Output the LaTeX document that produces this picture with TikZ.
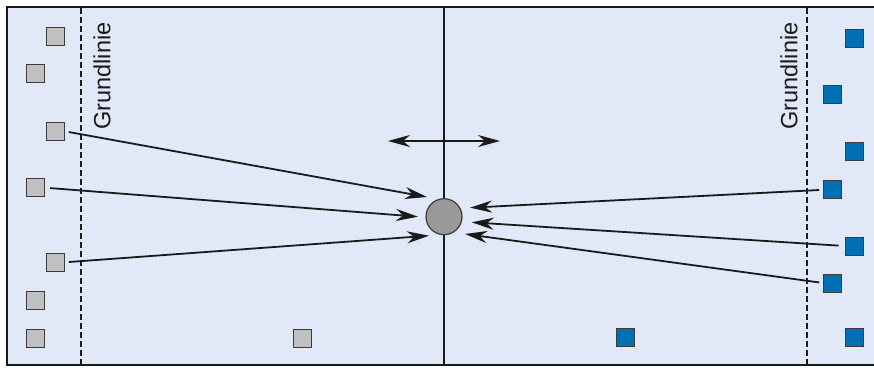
\documentclass[tikz,border=0pt]{standalone}
\usepackage{fontspec}
\setmainfont{Liberation Sans}
\usetikzlibrary{arrows.meta}
\definecolor{field}{HTML}{E1E8F7}
\definecolor{sqgray}{HTML}{C0C0C0}
\definecolor{sqblue}{HTML}{0070B5}
\definecolor{ballgray}{HTML}{999999}
\definecolor{ink}{HTML}{1A1A1A}
\tikzset{
  player/.style={draw=ink!85, line width=1pt, minimum size=18pt, inner sep=0pt},
  grey/.style={player, fill=sqgray},
  blue/.style={player, fill=sqblue},
  arr/.style={draw=ink, line width=1.8pt, -{Stealth[length=22pt,width=12pt,inset=7pt]}},
  dblarr/.style={draw=ink, line width=1.8pt, {Stealth[length=22pt,width=12pt,inset=7pt]}-{Stealth[length=22pt,width=12pt,inset=7pt]}},
  baseline line/.style={draw=ink, line width=2pt, dash pattern=on 6pt off 3pt},
  label/.style={rotate=90, font=\fontsize{23.5}{26}\selectfont, text=ink, inner sep=0pt}
}
\begin{document}
\begin{tikzpicture}[x=1pt,y=-1pt]
\useasboundingbox (0,0) rectangle (874,367);
% field
\draw[fill=field, draw=ink, line width=2.4pt] (7,7) rectangle (880,365);
% center line
\draw[ink, line width=2.2pt] (444,7) -- (444,365);
% baselines
\draw[baseline line] (81,8) -- (81,365);
\draw[baseline line] (807,8) -- (807,365);
\node[label] (gl) at (102,76) {Grundlinie};
\node[label] (gr) at (789,76) {Grundlinie};
% ball
\node[circle, draw=ink!85, fill=ballgray, line width=1.2pt, minimum size=36pt, inner sep=0pt] (ball) at (444,216.7) {};
% grey players
\node[grey] (l1) at (55.3,36) {};
\node[grey] (l2) at (35.7,73.7) {};
\node[grey] (l3) at (55.3,131.3) {};
\node[grey] (l4) at (35.7,187.7) {};
\node[grey] (l5) at (55.3,262.3) {};
\node[grey] (l6) at (35.7,300.7) {};
\node[grey] (l7) at (35.7,338.7) {};
\node[grey] (l8) at (302.3,338.7) {};
% blue players
\node[blue] (r1) at (854,38.7) {};
\node[blue] (r2) at (832.7,94.8) {};
\node[blue] (r3) at (854,151.8) {};
\node[blue] (r4) at (832.7,189.8) {};
\node[blue] (r5) at (854,246) {};
\node[blue] (r6) at (832.7,283) {};
\node[blue] (r7) at (854,337.8) {};
\node[blue] (r8) at (625.3,337.7) {};
% arrow tips
\coordinate (t1) at (427,197);
\coordinate (t2) at (418,216.7);
\coordinate (t3) at (429,235.7);
\coordinate (t4) at (470,207.7);
\coordinate (t5) at (471.7,222.3);
\coordinate (t6) at (465,234);
\coordinate (dl) at (388,141);
\coordinate (dr) at (500,141);
% passes
\draw[arr, shorten <=4pt] (l3.east) -- (t1);
\draw[arr, shorten <=5pt] (l4.east) -- (t2);
\draw[arr, shorten <=4pt] (l5.east) -- (t3);
\draw[arr, shorten <=4pt] (r4.west) -- (t4);
\draw[arr, shorten <=6pt] (r5.west) -- (t5);
\draw[arr, shorten <=4pt] (r6.west) -- (t6);
% movement
\draw[dblarr] (dl) -- (dr);
\end{tikzpicture}
\end{document}
